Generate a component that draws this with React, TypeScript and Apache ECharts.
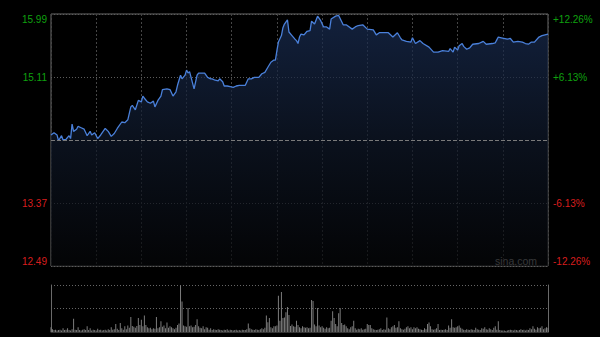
import React, { useEffect, useRef } from "react";
import * as echarts from "echarts";

// Intraday (HK session 9:30-12:00, 13:00-16:00 → minute index 0..330)
const prevClose = 14.24;
const tickStep = 0.875;
const leftLabels = ["12.49", "13.37", "", "15.11", "15.99"];
const rightLabels = ["-12.26%", "-6.13%", "", "+6.13%", "+12.26%"];

const minutes = [
  0, 2, 4, 5, 7, 8, 10, 12, 13, 14, 15, 17, 18, 20, 22, 24, 26, 27, 29, 31, 33, 36, 38, 40, 42, 44, 47, 49, 51, 53,
  54, 56, 58, 60, 61, 62, 64, 66, 68, 69, 71, 73, 74, 77, 79, 81, 83, 84, 86, 87, 89, 90, 91, 92, 93, 95, 97, 98,
  100, 102, 104, 106, 107, 109, 111, 112, 114, 115, 117, 119, 121, 123, 125, 129, 131, 133, 135, 138, 140, 142,
  144, 146, 148, 149, 150, 151, 153, 154, 155, 157, 158, 160, 162, 163, 164, 165, 166, 168, 170, 172, 173, 175,
  177, 179, 181, 183, 185, 186, 189, 191, 194, 196, 200, 202, 204, 207, 210, 214, 216, 218, 224, 227, 230, 232,
  233, 236, 239, 240, 242, 245, 247, 251, 254, 257, 260, 264, 265, 267, 268, 270, 271, 273, 274, 276, 278, 280,
  284, 286, 287, 289, 293, 295, 296, 297, 299, 303, 305, 307, 310, 313, 315, 317, 319, 321, 324, 326, 328, 330,
];

const prices = [
  14.31, 14.34, 14.31, 14.23, 14.3, 14.24, 14.25, 14.3, 14.26, 14.46, 14.36, 14.39, 14.43, 14.41, 14.39, 14.3,
  14.36, 14.31, 14.34, 14.26, 14.31, 14.4, 14.36, 14.29, 14.33, 14.4, 14.49, 14.48, 14.52, 14.7,
  14.72, 14.66, 14.79, 14.77, 14.85, 14.82, 14.77, 14.75, 14.78, 14.7, 14.79, 14.85, 14.94, 14.95, 14.94, 14.85,
  14.91, 15.0, 15.14, 15.09, 15.14, 15.21, 15.17, 15.19, 15.11, 14.95, 15.14, 15.17,
  15.17, 15.17, 15.11, 15.09, 15.09, 15.07, 15.06, 15.09, 15.05, 14.99, 14.99, 14.98, 14.97, 14.99, 15.0, 15.0,
  15.09, 15.09, 15.11, 15.11, 15.16, 15.18,
  15.25, 15.32, 15.35, 15.35, 15.48, 15.6, 15.69, 15.8, 15.85, 15.91, 15.74, 15.69, 15.64, 15.62, 15.58, 15.67,
  15.71, 15.7, 15.75, 15.76, 15.89, 15.85,
  15.96, 15.9, 15.81, 15.81, 15.78, 15.92, 15.96, 15.97, 15.84, 15.84, 15.78, 15.81, 15.83, 15.84, 15.78, 15.77,
  15.7, 15.73, 15.73, 15.67, 15.73, 15.66,
  15.63, 15.61, 15.6, 15.66, 15.58, 15.62, 15.58, 15.53, 15.46, 15.46, 15.48, 15.47, 15.51, 15.46, 15.53, 15.49,
  15.55, 15.58, 15.54, 15.5, 15.52, 15.57,
  15.58, 15.6, 15.61, 15.57, 15.58, 15.59, 15.63, 15.67, 15.66, 15.64, 15.65, 15.6, 15.61, 15.6, 15.58, 15.57,
  15.6, 15.6, 15.67, 15.69, 15.7, 15.71,
];

// per-minute volume, relative (max ≈ 100)
const volumes = [
  10, 6, 4, 5, 3, 4, 5, 3, 8, 4,
  5, 8, 4, 3, 6, 28, 5, 4, 10, 4,
  3, 5, 6, 4, 12, 4, 8, 3, 5, 4,
  3, 7, 4, 5, 3, 4, 5, 3, 6, 4,
  10, 5, 6, 17, 7, 4, 19, 8, 5, 12,
  6, 14, 9, 32, 13, 11, 9, 13, 30, 15,
  26, 12, 35, 15, 10, 8, 9, 6, 8, 7,
  32, 8, 10, 23, 11, 14, 8, 20, 9, 12,
  10, 8, 6, 9, 15, 18, 99, 65, 14, 12,
  11, 51, 12, 14, 10, 11, 15, 27, 12, 9,
  8, 12, 6, 10, 9, 5, 8, 4, 6, 5,
  4, 6, 5, 4, 3, 5, 4, 6, 3, 5,
  4, 3, 4, 5, 3, 4, 3, 5, 4, 4,
  6, 18, 8, 6, 5, 4, 6, 5, 4, 6,
  8, 6, 9, 35, 21, 30, 10, 8, 12, 12,
  14, 77, 24, 85, 30, 31, 42, 53, 36, 13,
  16, 12, 11, 24, 15, 10, 8, 12, 10, 9,
  10, 8, 9, 68, 66, 16, 12, 51, 14, 10,
  12, 9, 7, 10, 8, 9, 24, 44, 30, 17,
  12, 40, 51, 19, 15, 16, 12, 8, 6, 10,
  12, 24, 8, 5, 7, 6, 8, 5, 6, 7,
  17, 15, 15, 8, 6, 5, 4, 5, 6, 8,
  4, 6, 5, 31, 8, 6, 10, 12, 15, 9,
  10, 23, 8, 6, 5, 7, 10, 12, 8, 10,
  6, 10, 8, 10, 7, 6, 5, 4, 8, 6,
  17, 20, 12, 6, 5, 6, 8, 17, 4, 5,
  4, 5, 6, 4, 14, 9, 27, 10, 9, 10,
  12, 14, 9, 7, 5, 4, 6, 5, 4, 6,
  5, 4, 9, 6, 5, 4, 8, 7, 10, 6,
  5, 8, 6, 4, 9, 12, 5, 23, 4, 3,
  3, 3, 2, 3, 4, 5, 4, 3, 5, 4,
  3, 4, 6, 4, 5, 3, 5, 4, 8, 6,
  12, 7, 5, 10, 8, 9, 12, 6, 8, 10,
  9,
];

const GREEN = "#0fa00f";
const RED = "#d81e1e";
const FONT = "Arial, 'Liberation Sans', sans-serif";

function tickIndex(v: number) {
  return Math.round((v + 2 * tickStep) / tickStep);
}

function richFor(color: string) {
  return {
    top: { color, fontSize: 10, fontFamily: FONT, padding: [10, 0, 0, 0] },
    mid: { color, fontSize: 10, fontFamily: FONT },
    bot: { color, fontSize: 10, fontFamily: FONT, padding: [0, 0, 10, 0] },
  };
}

function labelFormatter(labels: string[]) {
  return (v: number) => {
    const i = tickIndex(v);
    const t = labels[i];
    if (!t) return "";
    const style = i === 4 ? "gt" : i === 3 ? "gm" : i === 1 ? "rm" : "rb";
    return `{${style}|${t}}`;
  };
}

const rich = {
  gt: richFor(GREEN).top,
  gm: richFor(GREEN).mid,
  rm: richFor(RED).mid,
  rb: richFor(RED).bot,
};

export default function App() {
  const ref = useRef<HTMLDivElement>(null);

  useEffect(() => {
    document.body.style.margin = "0";
    document.body.style.background = "#000";
    if (!ref.current) return;
    const chart = echarts.init(ref.current, undefined, { renderer: "svg" });

    const lineData = minutes.map((m, k) => [m, +(prices[k] - prevClose).toFixed(3)]);
    const volData = volumes.map((v, i) => [i, v]);

    chart.setOption({
      animation: false,
      backgroundColor: "#000",
      grid: [
        { left: 51, right: 52, top: 14, height: 252, show: true, borderColor: "#6a6a6a", borderWidth: 1, backgroundColor: "transparent" },
        { left: 51, right: 52, top: 285, height: 47, show: false },
      ],
      xAxis: [
        {
          type: "value", gridIndex: 0, min: 0, max: 330, interval: 30,
          axisLine: { show: false }, axisTick: { show: false }, axisLabel: { show: false },
          splitLine: { show: true, lineStyle: { color: "#454545", width: 1, type: [2, 2] } },
        },
        {
          type: "value", gridIndex: 1, min: 0, max: 330, interval: 30,
          axisLine: { show: true, lineStyle: { color: "#333" } }, axisTick: { show: false }, axisLabel: { show: false },
          splitLine: { show: false },
        },
      ],
      yAxis: [
        {
          type: "value", gridIndex: 0, position: "left",
          min: -2 * tickStep, max: 2 * tickStep, interval: tickStep,
          axisLine: { show: false }, axisTick: { show: false },
          axisLabel: { margin: 4, formatter: labelFormatter(leftLabels), rich },
          splitLine: { show: true, lineStyle: { color: "#5c5c5c", width: 1, type: [1, 2] } },
        },
        {
          type: "value", gridIndex: 0, position: "right",
          min: -2 * tickStep, max: 2 * tickStep, interval: tickStep,
          axisLine: { show: false }, axisTick: { show: false },
          axisLabel: { margin: 5, formatter: labelFormatter(rightLabels), rich },
          splitLine: { show: false },
        },
        {
          type: "value", gridIndex: 1, position: "left", min: 0, max: 100, interval: 50,
          axisLine: { show: true, lineStyle: { color: "#6a6a6a" } }, axisTick: { show: false }, axisLabel: { show: false },
          splitLine: { show: true, lineStyle: { color: "#666", width: 1, type: [1, 2] } },
        },
        {
          type: "value", gridIndex: 1, position: "right", min: 0, max: 100, interval: 50,
          axisLine: { show: true, lineStyle: { color: "#6a6a6a" } }, axisTick: { show: false }, axisLabel: { show: false },
          splitLine: { show: false },
        },
      ],
      series: [
        {
          type: "line", xAxisIndex: 0, yAxisIndex: 0, data: lineData,
          showSymbol: false, symbol: "none",
          lineStyle: { color: "#4a80da", width: 1.3 },
          areaStyle: {
            origin: "start",
            color: new echarts.graphic.LinearGradient(0, 0, 0, 1, [
              { offset: 0, color: "#1a2e55" },
              { offset: 0.5, color: "#0f1829" },
              { offset: 1, color: "#050608" },
            ]),
          },
          markLine: {
            silent: true, symbol: "none", label: { show: false },
            lineStyle: { color: "#7a7a7a", width: 1, type: [4, 2] },
            data: [{ yAxis: 0 }],
          },
        },
        {
          type: "bar", xAxisIndex: 1, yAxisIndex: 2, data: volData,
          barWidth: 1, itemStyle: { color: "#7c7c7c" },
        },
      ],
      graphic: [
        {
          type: "text", x: 537, y: 261,
          style: { text: "sina.com", fill: "#a8a8a8", fontSize: 10.5, fontFamily: FONT, align: "right", verticalAlign: "middle" },
        },
      ],
    });

    return () => chart.dispose();
  }, []);

  return <div ref={ref} style={{ width: 600, height: 337, background: "#000" }} />;
}
